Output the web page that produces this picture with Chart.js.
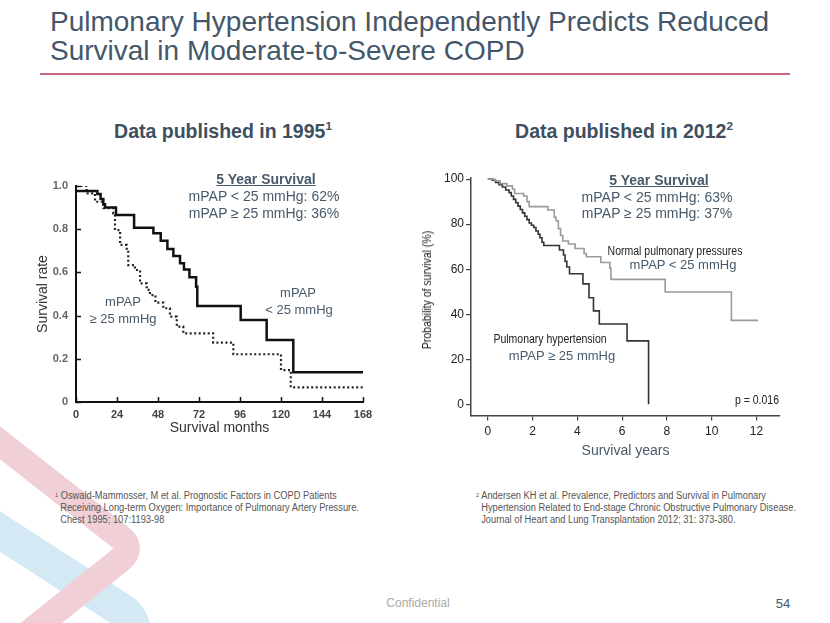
<!DOCTYPE html>
<html>
<head>
<meta charset="utf-8">
<script src="https://cdn.jsdelivr.net/npm/chart.js@4.4.1/dist/chart.umd.min.js"></script>
<style>
  html,body{margin:0;padding:0;}
  body{width:830px;height:623px;position:relative;overflow:hidden;background:#fff;font-family:"Liberation Sans",Arial,sans-serif;}
  .abs{position:absolute;white-space:nowrap;}
  .c{transform:translate(-50%,-50%);text-align:center;}
  .cn{transform:translate(-50%,-50%) scaleX(0.84);text-align:center;}
  .slate{color:#475a6b;}
  .foot{transform:scaleX(0.93);transform-origin:0 0;font-size:10px;line-height:12px;color:#555;}
  sup{font-size:60%;vertical-align:top;position:relative;top:-0.1em;}
</style>
</head>
<body>
<svg class="abs" style="left:0;top:0" width="830" height="623">
  <path d="M -10 525 L 120 609 Q 135 618 135 640" fill="none" stroke="#d5e9f5" stroke-width="34"/>
  <path d="M -10 435 L 120 537 Q 134 548 120 560 L 20 640" fill="none" stroke="#f0cfd6" stroke-width="26"/>
</svg>

<div class="abs slate" style="left:50px;top:7px;font-size:28px;line-height:29px;color:#44576a;">Pulmonary Hypertension Independently Predicts Reduced<br>Survival in Moderate-to-Severe COPD</div>
<div class="abs" style="left:40px;top:73px;width:750px;height:2px;background:#c9677f;"></div>

<div class="abs c" style="left:223px;top:131px;font-size:19.5px;font-weight:bold;color:#3e4f5f;">Data published in 1995<sup>1</sup></div>
<div class="abs c" style="left:624px;top:131px;font-size:19.5px;font-weight:bold;color:#3e4f5f;">Data published in 2012<sup>2</sup></div>

<div style="position:absolute;left:0;top:160px;"><canvas id="c1" width="400" height="280"></canvas></div>
<div style="position:absolute;left:400px;top:160px;"><canvas id="c2" width="400" height="305"></canvas></div>

<!-- left annotations -->
<div class="abs c slate" style="left:266px;top:179px;font-size:14px;font-weight:bold;text-decoration:underline;">5 Year Survival</div>
<div class="abs c slate" style="left:264px;top:196px;font-size:14px;">mPAP &lt; 25 mmHg: 62%</div>
<div class="abs c slate" style="left:264px;top:213px;font-size:14px;">mPAP ≥ 25 mmHg: 36%</div>
<div class="abs c slate" style="left:123px;top:301px;font-size:13px;">mPAP</div>
<div class="abs c slate" style="left:123px;top:318px;font-size:13px;">≥ 25 mmHg</div>
<div class="abs c slate" style="left:298px;top:292px;font-size:13px;">mPAP</div>
<div class="abs c slate" style="left:299px;top:309px;font-size:13px;">&lt; 25 mmHg</div>

<!-- right annotations -->
<div class="abs c slate" style="left:659px;top:180px;font-size:14px;font-weight:bold;text-decoration:underline;">5 Year Survival</div>
<div class="abs c slate" style="left:657px;top:197px;font-size:14px;">mPAP &lt; 25 mmHg: 63%</div>
<div class="abs c slate" style="left:657px;top:213px;font-size:14px;">mPAP ≥ 25 mmHg: 37%</div>
<div class="abs cn" style="left:675px;top:251px;font-size:12.5px;color:#222;">Normal pulmonary pressures</div>
<div class="abs c slate" style="left:683px;top:264px;font-size:13px;">mPAP &lt; 25 mmHg</div>
<div class="abs cn" style="left:550px;top:339px;font-size:12.5px;color:#222;">Pulmonary hypertension</div>
<div class="abs c slate" style="left:562px;top:355px;font-size:13px;">mPAP ≥ 25 mmHg</div>
<div class="abs cn" style="left:757px;top:400px;font-size:12.5px;color:#222;">p = 0.016</div>
<div class="abs" style="left:427px;top:290px;font-size:12.5px;color:#222;transform:translate(-50%,-50%) rotate(-90deg) scaleX(0.84);">Probability of survival (%)</div>

<!-- footnotes -->
<div class="abs foot" style="left:55px;top:490px;"><sup>1</sup> Oswald-Mammosser, M et al. Prognostic Factors in COPD Patients<br>&nbsp;&nbsp;Receiving Long-term Oxygen: Importance of Pulmonary Artery Pressure.<br>&nbsp;&nbsp;Chest 1995; 107:1193-98</div>
<div class="abs foot" style="left:476px;top:490px;"><sup>2</sup> Andersen KH et al. Prevalence, Predictors and Survival in Pulmonary<br>&nbsp;&nbsp;Hypertension Related to End-stage Chronic Obstructive Pulmonary Disease.<br>&nbsp;&nbsp;Journal of Heart and Lung Transplantation 2012; 31: 373-380.</div>

<div class="abs c" style="left:418px;top:603px;font-size:12px;color:#aaa;">Confidential</div>
<div class="abs c" style="left:783px;top:603px;font-size:13px;color:#44576a;">54</div>

<script>
// ---------- Data: 1995 study (months, survival rate) ----------
const monthTicks = [0, 24, 48, 72, 96, 120, 144, 168];
const rateTicks = [0, 0.2, 0.4, 0.6, 0.8, 1.0];
const rateTickLabels = ['0', '0.2', '0.4', '0.6', '0.8', '1.0'];
const lowMonths = [0, 12.5, 14.4, 16, 17, 23.4, 34, 45.3, 49.6, 53.5, 57, 60.9, 63.2, 66.4, 70.3, 71, 96.4, 111.6, 127.2, 168];
const lowRate   = [0.977, 0.963, 0.94, 0.915, 0.90, 0.866, 0.807, 0.781, 0.747, 0.708, 0.676, 0.642, 0.614, 0.577, 0.534, 0.444, 0.38, 0.287, 0.138, 0.138];
const highMonths = [0, 6.2, 11.1, 16, 21.8, 22.8, 25.8, 29.7, 30.6, 34.5, 37.5, 41.4, 43.3, 46.5, 51.1, 55, 59, 62.8, 80.3, 92.1, 120, 125.7, 168];
const highRate   = [1.0, 0.966, 0.927, 0.897, 0.873, 0.796, 0.727, 0.704, 0.634, 0.611, 0.549, 0.519, 0.495, 0.46, 0.434, 0.395, 0.349, 0.318, 0.275, 0.221, 0.148, 0.068, 0.068];

// ---------- Data: 2012 study (years, % survival) ----------
const yearTicks = [0, 2, 4, 6, 8, 10, 12];
const survTicks = [0, 20, 40, 60, 80, 100];
const normYears = [0, 0.3, 0.55, 0.85, 1.1, 1.2, 1.6, 1.75, 1.85, 2.68, 2.97, 3.05, 3.15, 3.25, 3.35, 3.6, 3.9, 4.3, 4.4, 5.05, 5.45, 5.5, 7.92, 10.88, 12.07];
const normSurv  = [100, 99.3, 98, 97, 95.5, 93.6, 92.5, 90, 87.8, 86.3, 83, 81.5, 78, 75, 72.5, 71.2, 69.2, 67, 65.5, 63, 60.4, 55.5, 49.9, 37.3, 37.3];
const phYears = [0, 0.2, 0.35, 0.5, 0.65, 0.8, 0.95, 1.05, 1.15, 1.25, 1.35, 1.45, 1.55, 1.65, 1.75, 1.85, 1.95, 2.05, 2.15, 2.25, 2.33, 2.42, 2.5, 3.2, 3.38, 3.45, 3.53, 3.65, 4.25, 4.52, 4.72, 4.98, 6.22, 7.18];
const phSurv  = [100, 99.5, 98.5, 97.5, 96.5, 95.2, 94, 92.5, 91, 89.5, 88, 86.5, 85, 83.5, 82, 80.5, 79.5, 78.5, 77, 75.5, 74, 72, 70.5, 68.5, 66.3, 63.5, 61, 58, 53.5, 47.3, 41.5, 35.7, 28.2, 0];

const pts = (xs, ys) => xs.map((x, i) => ({x, y: ys[i]}));

const innerTicks = {
  id: 'innerTicks',
  afterDraw(chart) {
    const {ctx, chartArea, scales: {x, y}} = chart;
    ctx.save();
    ctx.strokeStyle = '#111';
    ctx.lineWidth = 1.5;
    x.ticks.forEach(t => {
      const px = Math.round(x.getPixelForValue(t.value)) + 0.5;
      ctx.beginPath(); ctx.moveTo(px, chartArea.bottom); ctx.lineTo(px, chartArea.bottom - 5); ctx.stroke();
    });
    y.ticks.forEach(t => {
      const py = Math.round(y.getPixelForValue(t.value)) + 0.5;
      ctx.beginPath(); ctx.moveTo(chartArea.left, py); ctx.lineTo(chartArea.left + 5, py); ctx.stroke();
    });
    ctx.restore();
  }
};

new Chart(document.getElementById('c1'), {
  type: 'line',
  data: {
    datasets: [
      {data: pts(lowMonths, lowRate), borderColor: '#111', borderWidth: 2.5, stepped: 'before', pointRadius: 0, fill: false},
      {data: pts(highMonths, highRate), borderColor: '#222', borderWidth: 2.2, borderDash: [2, 2.5], stepped: 'before', pointRadius: 0, fill: false}
    ]
  },
  options: {
    responsive: false, animation: false,
    layout: {padding: {left: 0, top: 26, right: 37, bottom: 0}},
    plugins: {legend: {display: false}, tooltip: {enabled: false}},
    scales: {
      x: {
        type: 'linear', min: 0, max: 168,
        afterBuildTicks: s => { s.ticks = monthTicks.map(v => ({value: v})); },
        afterFit: s => { s.height = 38; },
        grid: {display: false, drawTicks: false},
        border: {display: true, color: '#111', width: 2},
        ticks: {color: '#444', font: {size: 11, weight: 'bold', family: 'Liberation Sans'}, padding: 6, maxRotation: 0, autoSkip: false},
        title: {display: true, text: 'Survival months', color: '#333', font: {size: 14, family: 'Liberation Sans'}, padding: {top: 0, bottom: 3}}
      },
      y: {
        type: 'linear', min: 0, max: 1.0,
        afterBuildTicks: s => { s.ticks = rateTicks.map(v => ({value: v})); },
        afterFit: s => { s.width = 76; },
        grid: {display: false, drawTicks: false},
        border: {display: true, color: '#111', width: 2},
        ticks: {color: '#666', font: {size: 11, weight: 'bold', family: 'Liberation Sans'}, padding: 8,
          callback: (v) => rateTickLabels[rateTicks.indexOf(v)] ?? ''},
        title: {display: true, text: 'Survival rate', color: '#333', font: {size: 14, family: 'Liberation Sans'}, padding: {top: 35, bottom: 0}}
      }
    }
  },
  plugins: [innerTicks]
});

new Chart(document.getElementById('c2'), {
  type: 'line',
  data: {
    datasets: [
      {data: pts(normYears, normSurv), borderColor: '#9a9a9a', borderWidth: 1.6, stepped: 'before', pointRadius: 0, fill: false},
      {data: pts(phYears, phSurv), borderColor: '#333', borderWidth: 1.6, stepped: 'before', pointRadius: 0, fill: false}
    ]
  },
  options: {
    responsive: false, animation: false,
    layout: {padding: {left: 0, top: 18, right: 20, bottom: 0}},
    plugins: {legend: {display: false}, tooltip: {enabled: false}},
    scales: {
      x: {
        type: 'linear', min: -0.75, max: 13.05,
        afterBuildTicks: s => { s.ticks = yearTicks.map(v => ({value: v})); },
        afterFit: s => { s.height = 49.4; },
        grid: {display: true, drawOnChartArea: false, drawTicks: true, tickLength: 5, color: '#444', lineWidth: 1.2},
        border: {display: true, color: '#444', width: 1.5},
        ticks: {color: '#222', font: {size: 12, family: 'Liberation Sans'}, padding: 4, maxRotation: 0, autoSkip: false},
        title: {display: true, text: 'Survival years', color: '#475a6b', font: {size: 14, family: 'Liberation Sans'}, padding: {top: 0, bottom: 5}}
      },
      y: {
        type: 'linear', min: -5, max: 100.5,
        afterBuildTicks: s => { s.ticks = survTicks.map(v => ({value: v})); },
        afterFit: s => { s.width = 71; },
        grid: {display: true, drawOnChartArea: false, drawTicks: true, tickLength: 5, color: '#444', lineWidth: 1.2},
        border: {display: true, color: '#444', width: 1.5},
        ticks: {color: '#222', font: {size: 12, family: 'Liberation Sans'}, padding: 2},
        title: {display: false}
      }
    }
  }
});
</script>
</body>
</html>
